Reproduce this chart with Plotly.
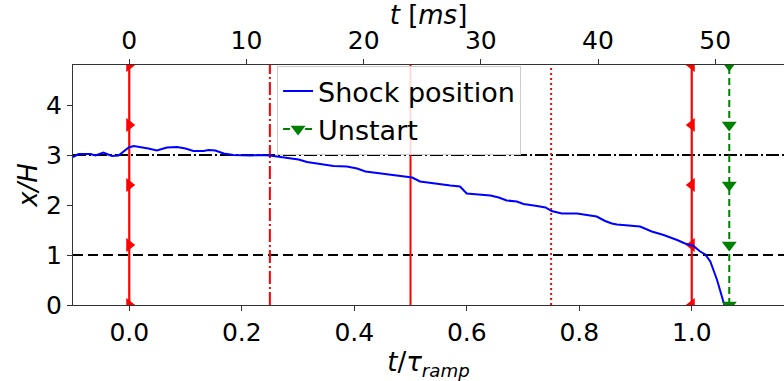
import plotly.graph_objects as go

# ---------------- data ----------------
TAU_RAMP_MS = 48.0  # ramp duration in ms (top axis conversion)

shock_t = [-0.100, -0.090, -0.069, -0.060, -0.046, -0.037, -0.031, -0.019, -0.010, -0.001,
           0.008, 0.020, 0.034, 0.049, 0.067, 0.085, 0.100, 0.114, 0.132, 0.141,
           0.153, 0.168, 0.185, 0.215, 0.230, 0.250, 0.280, 0.301, 0.316, 0.340,
           0.363, 0.387, 0.405, 0.420, 0.434, 0.452, 0.470, 0.488, 0.503, 0.517,
           0.529, 0.553, 0.571, 0.588, 0.600, 0.621, 0.642, 0.657, 0.671, 0.689,
           0.701, 0.725, 0.740, 0.751, 0.769, 0.796, 0.817, 0.831, 0.846, 0.858,
           0.867, 0.891, 0.908, 0.929, 0.950, 0.974, 0.988, 1.003, 1.015, 1.024,
           1.033, 1.045, 1.058]
shock_x = [2.96, 3.02, 3.02, 2.99, 3.05, 3.01, 2.98, 2.99, 3.07, 3.15,
           3.18, 3.16, 3.13, 3.09, 3.15, 3.16, 3.13, 3.08, 3.08, 3.10,
           3.09, 3.03, 3.00, 2.99, 3.00, 2.99, 2.95, 2.91, 2.86, 2.82,
           2.78, 2.77, 2.73, 2.67, 2.65, 2.63, 2.61, 2.58, 2.55, 2.47,
           2.45, 2.42, 2.39, 2.37, 2.23, 2.21, 2.19, 2.15, 2.09, 2.07,
           2.02, 1.98, 1.95, 1.88, 1.83, 1.83, 1.79, 1.77, 1.68, 1.63,
           1.61, 1.59, 1.57, 1.47, 1.40, 1.30, 1.23, 1.18, 1.07, 1.01,
           0.87, 0.50, 0.00]

ramp_start_t = 0.0
ramp_end_t = 1.0
quarter_ts = [0.25, 0.5, 0.75]
unstart_t = 1.0667
marker_ys = [0.0, 1.2, 2.4, 3.6, 4.8]
ref_levels = [1.0, 3.0]

x_range = [-0.1, 1.164]
y_range = [0.0, 4.8]
x_ticks = [0.0, 0.2, 0.4, 0.6, 0.8, 1.0]
x_ticklabels = ["0.0", "0.2", "0.4", "0.6", "0.8", "1.0"]
y_ticks = [0, 1, 2, 3, 4]
top_ticks = [0, 10, 20, 30, 40, 50]

# ---------------- styles ----------------
FONT = "DejaVu Sans"
RED = "#ff0000"
quarter_dash = ["13px,3px,2px,3px", "solid", "2px,3px"]

fig = go.Figure()

# reference horizontal lines
fig.add_hline(y=ref_levels[0], line=dict(color="black", width=2, dash="10px,5px"), layer="below")
fig.add_hline(y=ref_levels[1], line=dict(color="black", width=2, dash="13px,3px,2px,3px"), layer="below")

# quarter-ramp vertical lines
for t, d in zip(quarter_ts, quarter_dash):
    fig.add_vline(x=t, line=dict(color=RED, width=2, dash=d), layer="below")

# ramp start / end lines with markers
fig.add_trace(go.Scatter(
    x=[ramp_start_t] * len(marker_ys), y=marker_ys, mode="lines+markers",
    line=dict(color=RED, width=2.2),
    marker=dict(symbol="triangle-right", size=12, color=RED),
    showlegend=False, hoverinfo="skip"))
fig.add_trace(go.Scatter(
    x=[ramp_end_t] * len(marker_ys), y=marker_ys, mode="lines+markers",
    line=dict(color=RED, width=2.2),
    marker=dict(symbol="triangle-left", size=12, color=RED),
    showlegend=False, hoverinfo="skip"))

# shock position
fig.add_trace(go.Scatter(
    x=shock_t, y=shock_x, mode="lines", name="Shock position",
    line=dict(color="#0000ff", width=2), hoverinfo="skip"))

# unstart
fig.add_trace(go.Scatter(
    x=[unstart_t] * len(marker_ys), y=marker_ys, mode="lines+markers", name="Unstart",
    line=dict(color="#008000", width=2, dash="7px,4px"),
    marker=dict(symbol="triangle-down", size=13, color="#008000"),
    hoverinfo="skip"))

# invisible trace to activate top axis (time in ms)
fig.add_trace(go.Scatter(
    x=[t * TAU_RAMP_MS for t in shock_t], y=shock_x, xaxis="x2", mode="lines",
    line=dict(width=0, color="rgba(0,0,0,0)"), showlegend=False, hoverinfo="skip"))

axis_common = dict(showgrid=False, zeroline=False, showline=True, linecolor="#333333",
                   linewidth=1.2, ticks="outside", ticklen=5, tickcolor="#333333",
                   tickfont=dict(family=FONT, size=25, color="black"))

fig.update_layout(
    width=784, height=381,
    margin=dict(l=73, r=0, t=65, b=76),
    paper_bgcolor="white", plot_bgcolor="white",
    font=dict(family=FONT, color="black"),
    xaxis=dict(range=x_range, tickvals=x_ticks, ticktext=x_ticklabels,
               title=dict(text="<i>t</i>/<i>τ</i><sub><i>ramp</i></sub>",
                          font=dict(family=FONT, size=26), standoff=2),
               **axis_common),
    xaxis2=dict(range=[v * TAU_RAMP_MS for v in x_range], overlaying="x", side="top",
                tickvals=top_ticks,
                title=dict(text="<i>t</i> [<i>ms</i>]", font=dict(family=FONT, size=26), standoff=2),
                **axis_common),
    yaxis=dict(range=y_range, tickvals=y_ticks,
               title=dict(text="<i>x/H</i>", font=dict(family=FONT, size=26), standoff=0),
               **axis_common),
    legend=dict(x=0.287, y=0.996, xanchor="left", yanchor="top",
                bgcolor="rgba(255,255,255,0.85)", bordercolor="#cccccc", borderwidth=1,
                font=dict(family=FONT, size=27, color="black"),
                tracegroupgap=0, itemwidth=30),
)

fig.write_html("out.html")
